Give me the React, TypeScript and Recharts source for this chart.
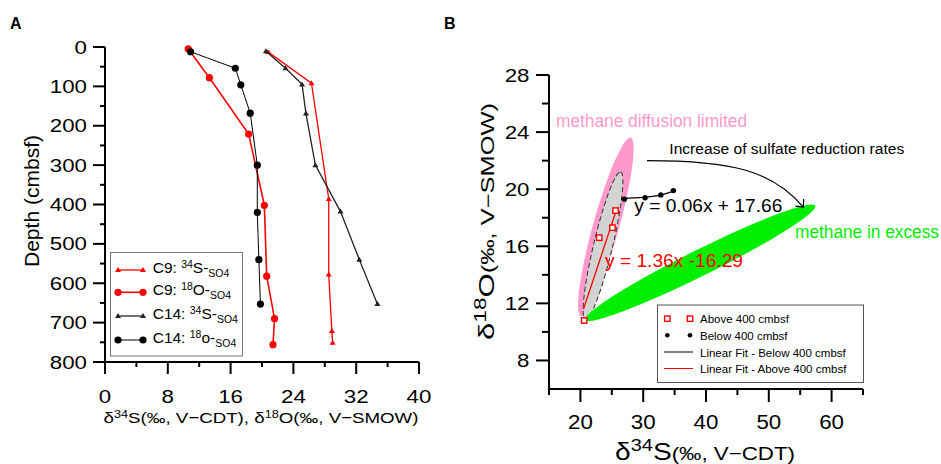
import React from "react";
import { ScatterChart, Scatter, XAxis, YAxis, ReferenceArea } from "recharts";

const FONT = "Arial, 'Liberation Sans', Helvetica, sans-serif";
const RED = "#ff0000";
const PINK = "#ff99cc";
const GREEN = "#00ee00";

// ---- panel A: pore-water sulfate isotope profiles ----
const c9SulfurDepth = [13, 92, 386, 578, 721, 751];
const c9Sulfur = [20.8, 26.3, 28.5, 28.5, 28.9, 29.0];
const c9OxygenDepth = [5, 78, 221, 402, 582, 690, 756];
const c9Oxygen = [10.6, 13.3, 18.3, 20.3, 20.6, 21.6, 21.4];
const c14SulfurDepth = [11, 54, 95, 169, 300, 418, 540, 653];
const c14Sulfur = [20.5, 23.0, 25.1, 25.6, 26.8, 30.0, 32.4, 34.7];
const c14OxygenDepth = [12, 54, 96, 168, 300, 420, 540, 653];
const c14Oxygen = [10.9, 16.6, 17.3, 18.5, 19.4, 19.4, 19.6, 19.8];

const depthTicks = [0, 50, 100, 150, 200, 250, 300, 350, 400, 450, 500, 550, 600, 650, 700, 750, 800];
const depthLabels = [0, 100, 200, 300, 400, 500, 600, 700, 800];
const isoTicks = [0, 4, 8, 12, 16, 20, 24, 28, 32, 36, 40];
const isoLabels = [0, 8, 16, 24, 32, 40];

// ---- panel B: d18O vs d34S ----
const aboveS = [20.6, 23.0, 25.1, 25.6];
const aboveO = [10.8, 16.6, 17.3, 18.5];
const belowS = [27.0, 30.3, 32.8, 34.8];
const belowO = [19.3, 19.4, 19.6, 19.9];
const fitBelowS = [26.9, 30.2, 32.7, 34.9];
const fitBelowO = [19.35, 19.42, 19.57, 19.87];
const fitAboveS = [20.5, 25.7];
const fitAboveO = [11.6, 18.5];

const bTicksX = [15, 20, 25, 30, 35, 40, 45, 50, 55, 60, 65];
const bLabelsX = [20, 30, 40, 50, 60];
const bTicksY = [8, 10, 12, 14, 16, 18, 20, 22, 24, 26, 28];
const bLabelsY = [8, 12, 16, 20, 24, 28];

// annotation zones (d34S range, d18O range)
const diffusionZoneS = [20.1, 28.0];
const diffusionZoneO = [11.1, 23.6];
const coreZoneS = [20.8, 26.4];
const coreZoneO = [10.85, 21.2];
const excessZoneS = [20.8, 57.4];
const excessZoneO = [10.85, 18.85];
const arrowS = [30.6, 55.5];
const arrowO = [18.75, 22.0];

const toPts = (xs: number[], ys: number[]) => xs.map((x, i) => ({ x, y: ys[i] }));

type TickOpts = {
  side: "left" | "bottom";
  labels: number[];
  major: number;
  minor: number;
  fontSize: number;
  charW: number;
  gap: number;
};

const makeTick = (o: TickOpts) => (props: any) => {
  const { x, y, payload } = props;
  const v = payload.value;
  const isMajor = o.labels.includes(v);
  const len = isMajor ? o.major : o.minor;
  const txt = String(v);
  if (o.side === "left") {
    return (
      <g>
        <line x1={x - len} y1={y} x2={x} y2={y} stroke="#000" strokeWidth={2} />
        {isMajor && (
          <text x={x - o.gap} y={y + o.fontSize * 0.358} textAnchor="end" fontSize={o.fontSize}
            fontFamily={FONT} fill="#000" textLength={txt.length * o.charW} lengthAdjust="spacingAndGlyphs">
            {txt}
          </text>
        )}
      </g>
    );
  }
  return (
    <g>
      <line x1={x} y1={y} x2={x} y2={y + len} stroke="#000" strokeWidth={2} />
      {isMajor && (
        <text x={x} y={y + o.gap} textAnchor="middle" fontSize={o.fontSize} fontFamily={FONT} fill="#000"
          textLength={txt.length * o.charW} lengthAdjust="spacingAndGlyphs">
          {txt}
        </text>
      )}
    </g>
  );
};

const circle = (r: number, fill: string) => (p: any) => <circle cx={p.cx} cy={p.cy} r={r} fill={fill} />;
const triangle = (fill: string) => (p: any) => (
  <polygon points={`${p.cx},${p.cy - 3} ${p.cx - 3},${p.cy + 2} ${p.cx + 3},${p.cy + 2}`} fill={fill} />
);
const square = (p: any) => (
  <rect x={p.cx - 2.7} y={p.cy - 2.7} width={5.4} height={5.4} fill="#fff" stroke={RED} strokeWidth={1.4} />
);
const noMark = () => <g />;

const seriesA = [
  { key: "c9S", depth: c9SulfurDepth, value: c9Sulfur, color: RED, width: 1.3, marker: "tri",
    label: ["C9: ", "34", "S-", "SO4"] },
  { key: "c9O", depth: c9OxygenDepth, value: c9Oxygen, color: RED, width: 1.6, marker: "dot",
    label: ["C9: ", "18", "O-", "SO4"] },
  { key: "c14S", depth: c14SulfurDepth, value: c14Sulfur, color: "#222", width: 1.3, marker: "tri",
    label: ["C14: ", "34", "S-", "SO4"] },
  { key: "c14O", depth: c14OxygenDepth, value: c14Oxygen, color: "#000", width: 1, marker: "dot",
    label: ["C14: ", "18", "o-", "SO4"] },
];

function PanelA() {
  return (
    <ScatterChart width={470} height={464} margin={{ top: 47, right: 51, bottom: 62, left: 45 }}>
      <XAxis type="number" dataKey="x" domain={[0, 40]} ticks={isoTicks} interval={0} height={40}
        axisLine={{ stroke: "#000", strokeWidth: 2 }} tickLine={false} tickSize={0} tickMargin={0}
        tick={makeTick({ side: "bottom", labels: isoLabels, major: 12, minor: 5, fontSize: 18.5, charW: 12.4, gap: 40.6 })} />
      <YAxis type="number" dataKey="y" domain={[0, 800]} reversed ticks={depthTicks} interval={0} width={60}
        axisLine={{ stroke: "#000", strokeWidth: 2 }} tickLine={false} tickSize={0} tickMargin={0}
        tick={makeTick({ side: "left", labels: depthLabels, major: 12, minor: 5, fontSize: 18.5, charW: 12.4, gap: 18 })} />
      {seriesA.map((s) => (
        <Scatter key={s.key} data={toPts(s.value, s.depth)} isAnimationActive={false}
          line={{ stroke: s.color, strokeWidth: s.width }} lineType="joint"
          shape={s.marker === "tri" ? triangle(s.color) : circle(3.6, s.color)} />
      ))}
    </ScatterChart>
  );
}

const ellipseShape = (fill: string, half: number, dashed = false) => (p: any) => {
  const { x, y, width, height } = p;
  const cx = x + width / 2;
  const cy = y + height / 2;
  const rx = Math.hypot(width, height) / 2;
  const angle = (-Math.atan2(height, width) * 180) / Math.PI;
  return (
    <ellipse cx={cx} cy={cy} rx={rx} ry={half} transform={`rotate(${angle} ${cx} ${cy})`} fill={fill}
      stroke={dashed ? "#333" : "none"} strokeWidth={1} strokeDasharray={dashed ? "5 3" : undefined} />
  );
};

const arrowShape = (p: any) => {
  const { x, y, width: w, height: h } = p;
  const x3 = x + w;
  const y3 = y + h;
  const c1x = x + 0.55 * w;
  const c1y = y;
  const c2x = x + 0.8 * w;
  const c2y = y + 0.22 * h;
  const ang = Math.atan2(y3 - c2y, x3 - c2x);
  const L = 8;
  const a1x = x3 - L * Math.cos(ang - 0.75);
  const a1y = y3 - L * Math.sin(ang - 0.75);
  const a2x = x3 - L * Math.cos(ang + 0.75);
  const a2y = y3 - L * Math.sin(ang + 0.75);
  return (
    <g fill="none" stroke="#000" strokeWidth={1.2}>
      <path d={`M${x},${y} C${c1x},${c1y} ${c2x},${c2y} ${x3},${y3}`} />
      <path d={`M${a1x},${a1y} L${x3},${y3} L${a2x},${a2y}`} />
    </g>
  );
};

function PanelB() {
  return (
    <ScatterChart width={471} height={464} margin={{ top: 75, right: 78, bottom: 35, left: 19 }}>
      <XAxis type="number" dataKey="x" domain={[15, 65]} ticks={bTicksX} interval={0} height={40}
        axisLine={{ stroke: "#000", strokeWidth: 2 }} tickLine={false} tickSize={0} tickMargin={0}
        tick={makeTick({ side: "bottom", labels: bLabelsX, major: 13, minor: 6, fontSize: 20, charW: 12.4, gap: 40 })} />
      <YAxis type="number" dataKey="y" domain={[6, 28]} ticks={bTicksY} interval={0} width={60}
        axisLine={{ stroke: "#000", strokeWidth: 2 }} tickLine={false} tickSize={0} tickMargin={0}
        tick={makeTick({ side: "left", labels: bLabelsY, major: 13, minor: 7, fontSize: 18.5, charW: 12.4, gap: 19.5 })} />
      <ReferenceArea x1={diffusionZoneS[0]} x2={diffusionZoneS[1]} y1={diffusionZoneO[0]} y2={diffusionZoneO[1]}
        ifOverflow="visible" shape={ellipseShape(PINK, 13)} />
      <ReferenceArea x1={coreZoneS[0]} x2={coreZoneS[1]} y1={coreZoneO[0]} y2={coreZoneO[1]}
        ifOverflow="visible" shape={ellipseShape("#d3d3d3", 9.5, true)} />
      <ReferenceArea x1={excessZoneS[0]} x2={excessZoneS[1]} y1={excessZoneO[0]} y2={excessZoneO[1]}
        ifOverflow="visible" shape={ellipseShape(GREEN, 13)} />
      <ReferenceArea x1={arrowS[0]} x2={arrowS[1]} y1={arrowO[0]} y2={arrowO[1]}
        ifOverflow="visible" shape={arrowShape} />
      <Scatter data={toPts(fitAboveS, fitAboveO)} isAnimationActive={false} shape={noMark}
        line={{ stroke: RED, strokeWidth: 1.3 }} lineType="joint" />
      <Scatter data={toPts(fitBelowS, fitBelowO)} isAnimationActive={false} shape={noMark}
        line={{ stroke: "#000", strokeWidth: 1.3 }} lineType="joint" />
      <Scatter data={toPts(aboveS, aboveO)} isAnimationActive={false} shape={square} />
      <Scatter data={toPts(belowS, belowO)} isAnimationActive={false} shape={circle(2.7, "#000")} />
    </ScatterChart>
  );
}

function LegendA() {
  const rows = [270, 292.3, 316, 340];
  return (
    <g>
      <rect x={110.5} y={252.5} width={132} height={103.5} fill="#fff" stroke="#777" strokeWidth={1} />
      {seriesA.map((s, i) => {
        const ry = rows[i];
        const mk = (cx: number) =>
          s.marker === "tri" ? (
            <polygon key={cx} points={`${cx},${ry - 3} ${cx - 3},${ry + 2} ${cx + 3},${ry + 2}`} fill={s.color} />
          ) : (
            <circle key={cx} cx={cx} cy={ry} r={3.6} fill={s.color} />
          );
        return (
          <g key={s.key}>
            <line x1={118} y1={ry} x2={143} y2={ry} stroke={s.color} strokeWidth={s.width} />
            {mk(118)}
            {mk(143)}
            <text x={152.7} y={ry + 3} fontSize={15.5} fontFamily={FONT} fill="#000">
              {s.label[0]}
              <tspan fontSize={10.5} dy={-5.5}>{s.label[1]}</tspan>
              <tspan dy={5.5}>{s.label[2]}</tspan>
              <tspan fontSize={10.5} dy={3.5}>{s.label[3]}</tspan>
            </text>
          </g>
        );
      })}
    </g>
  );
}

function LegendB() {
  const rows = [318.7, 335.3, 352, 368.5];
  const items = ["Above 400 cmbsf", "Below 400 cmbsf", "Linear Fit - Below 400 cmbsf", "Linear Fit - Above 400 cmbsf"];
  return (
    <g>
      <rect x={657.5} y={305} width={206} height={77.5} fill="#fff" stroke="#555" strokeWidth={1} />
      {[667.3, 690].map((cx) => (
        <rect key={"s" + cx} x={cx - 2.7} y={rows[0] - 2.7} width={5.4} height={5.4} fill="#fff" stroke={RED} strokeWidth={1.4} />
      ))}
      {[667.3, 690].map((cx) => (
        <circle key={"c" + cx} cx={cx} cy={rows[1]} r={2.3} fill="#000" />
      ))}
      <line x1={664} y1={rows[2]} x2={693} y2={rows[2]} stroke="#000" strokeWidth={1} />
      <line x1={664} y1={rows[3]} x2={693} y2={rows[3]} stroke={RED} strokeWidth={1} />
      {items.map((t, i) => (
        <text key={t} x={700} y={rows[i] + 4.5} fontSize={11.5} fontFamily={FONT} fill="#000">
          {t}
        </text>
      ))}
    </g>
  );
}

export default function App() {
  return (
    <div style={{ position: "absolute", left: 0, top: 0, width: 941, height: 464, background: "#fff", overflow: "hidden" }}>
      <div style={{ position: "absolute", left: 0, top: 0 }}>
        <PanelA />
      </div>
      <div style={{ position: "absolute", left: 470, top: 0 }}>
        <PanelB />
      </div>
      <svg width={941} height={464} style={{ position: "absolute", left: 0, top: 0, pointerEvents: "none" }}
        fontFamily={FONT}>
        <text x={10} y={29.3} fontSize={16} fontWeight="bold">A</text>
        <text x={444} y={29.3} fontSize={16} fontWeight="bold">B</text>

        <text transform="translate(39,267) rotate(-90)" fontSize={19.5} textLength={132} lengthAdjust="spacingAndGlyphs">
          Depth (cmbsf)
        </text>
        <text x={103.5} y={423} fontSize={15.5} textLength={315} lengthAdjust="spacingAndGlyphs">
          δ<tspan fontSize={10.5} dy={-5.5}>34</tspan>
          <tspan dy={5.5}>S(‰, V−CDT), δ</tspan>
          <tspan fontSize={10.5} dy={-5.5}>18</tspan>
          <tspan dy={5.5}>O(‰, V−SMOW)</tspan>
        </text>

        <text transform="translate(494,340) rotate(-90)" fontSize={18} textLength={237} lengthAdjust="spacingAndGlyphs">
          <tspan fontSize={22}>δ</tspan>
          <tspan fontSize={16} dy={-8}>18</tspan>
          <tspan fontSize={22} dy={8}>O</tspan>
          <tspan>(‰, V−SMOW)</tspan>
        </text>
        <text x={615} y={459.5} fontSize={19} textLength={180} lengthAdjust="spacingAndGlyphs">
          <tspan fontSize={24}>δ</tspan>
          <tspan fontSize={17} dy={-9}>34</tspan>
          <tspan fontSize={24} dy={9}>S</tspan>
          <tspan>(‰, V−CDT)</tspan>
        </text>

        <text x={556} y={127.3} fontSize={17.5} fill={PINK} textLength={191} lengthAdjust="spacingAndGlyphs">
          methane diffusion limited
        </text>
        <text x={669.3} y={154.3} fontSize={15.5} fill="#000" textLength={235} lengthAdjust="spacingAndGlyphs">
          Increase of sulfate reduction rates
        </text>
        <text x={634.3} y={211.5} fontSize={19} fill="#000" textLength={148} lengthAdjust="spacingAndGlyphs">
          y = 0.06x + 17.66
        </text>
        <text x={795} y={238} fontSize={17.5} fill={GREEN} textLength={144} lengthAdjust="spacingAndGlyphs">
          methane in excess
        </text>
        <text x={605} y={267.3} fontSize={18} fill={RED} textLength={138} lengthAdjust="spacingAndGlyphs">
          y = 1.36x -16.29
        </text>

        <LegendA />
        <LegendB />
      </svg>
    </div>
  );
}
